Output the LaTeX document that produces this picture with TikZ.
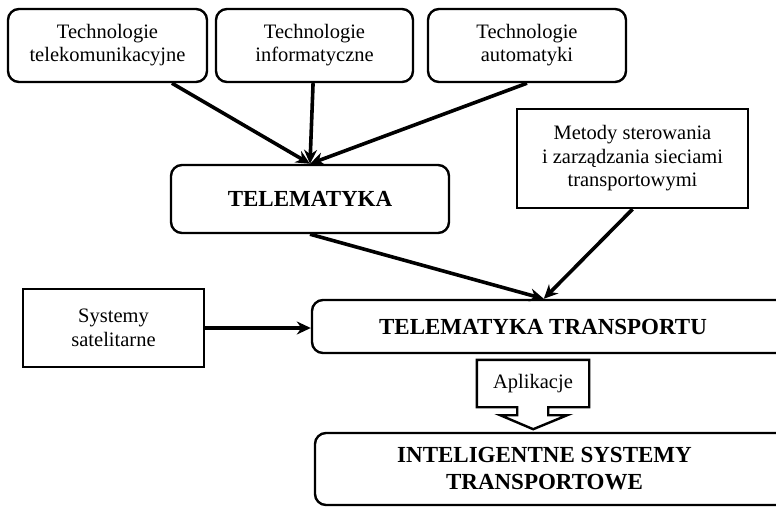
\documentclass[tikz,border=0pt]{standalone}
\usepackage{fontspec}
\setmainfont{Liberation Serif}
\usetikzlibrary{arrows.meta}

\tikzset{
    rbox/.style={draw, line width=2.4pt, rounded corners=11pt, align=center,
                 font=\fontsize{20.5}{23}\selectfont},
    sbox/.style={draw, line width=2.4pt, align=center,
                 font=\fontsize{20.5}{23.5}\selectfont},
    bigtext/.style={font=\fontsize{23}{27}\selectfont\bfseries},
    link/.style={->, line width=3.6pt},
}

\begin{document}
\begin{tikzpicture}[x=1pt, y=-1pt, >={Stealth[length=14pt, width=13pt]}]
        \clip (0,0) rectangle (776,506);

        \node[rbox, minimum width=199pt, minimum height=73pt] (tele)  at (107.5,45.5) {Technologie\\telekomunikacyjne};
        \node[rbox, minimum width=197pt, minimum height=73pt] (info)  at (314.5,45.5) {Technologie\\informatyczne};
        \node[rbox, minimum width=198pt, minimum height=73pt] (auto)  at (527,45.5)   {Technologie\\automatyki};
        \node[sbox, minimum width=231pt, minimum height=99pt] (metody) at (632.5,158.5) {Metody sterowania\\i zarządzania sieciami\\transportowymi};
        \node[rbox, bigtext, minimum width=278pt, minimum height=68pt] (telem) at (310,199) {TELEMATYKA};
        \node[sbox, minimum width=181pt, minimum height=78pt] (sat)   at (113.5,328)  {Systemy\\satelitarne};
        \node[rbox, bigtext, minimum width=498pt, minimum height=53pt] (tt) at (561,326.5) {\hspace*{-36pt}TELEMATYKA TRANSPORTU};
        \node[rbox, bigtext, minimum width=495pt, minimum height=72pt] (its) at (562.5,469) {\hspace*{-36pt}INTELIGENTNE SYSTEMY\\\hspace*{-36pt}TRANSPORTOWE};
        \node[font=\fontsize{20.5}{23}\selectfont, minimum width=112pt, minimum height=47pt] (apl) at (533,383.5) {Aplikacje};

        % hollow arrow round the label
        \draw[line width=2.4pt, line join=miter] (apl.north west) -- (apl.north east) -- (apl.south east)
            -- ++(-41,0) -- ++(0,8) -- ++(19,0) -- ++(-34,14) -- ++(-33,-14) -- ++(17,0) -- ++(0,-8)
            -- (apl.south west) -- cycle;

        \draw[link] (tele) -- (telem.north);
        \draw[link] (info) -- (telem.north);
        \draw[link] (auto.south) -- (telem.north);
        \draw[link] (telem.south) -- ([xshift=233pt]tt.north west);
        \draw[link] (metody.south) -- ([xshift=233pt]tt.north west);
        \draw[link] (sat.east) -- (sat.east -| tt.west);
    \end{tikzpicture}
\end{document}
